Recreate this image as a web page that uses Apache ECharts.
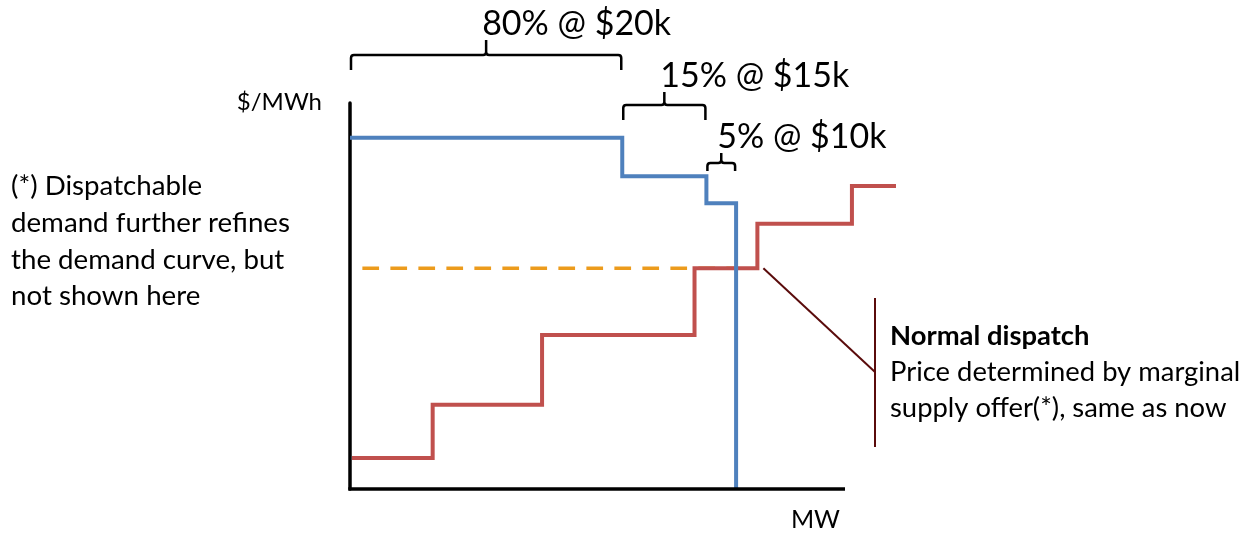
<!DOCTYPE html>
<html>
<head>
<meta charset="utf-8">
<script src="https://cdn.jsdelivr.net/npm/echarts@6/dist/echarts.min.js"></script>
<style>
  html, body { margin: 0; padding: 0; background: #ffffff; }
  #chart { width: 1257px; height: 535px; }
</style>
</head>
<body>
<div id="chart"></div>
<script>
// Demand curve: three price-responsive blocks (cumulative MW, price index)
const demandBlockEnds = [55, 72, 78];
const demandPrices = [91, 81, 74];
const demandLabels = ['80% @ $20k', '15% @ $15k', '5% @ $10k'];

// Supply offer stack (cumulative MW, offer price index)
const supplyStart = 0.4;
const supplyBlockEnds = [16.7, 38.8, 69.6, 82.3, 101.4, 110.3];
const supplyPrices = [8, 21.8, 39.9, 57.2, 68.7, 78.5];

// The supply block that sets the clearing price
const marginalIndex = 3;
const clearingFrom = 2.5;

// The drawn MW axis stops here; the supply stack runs a little past it
const axisEndMW = 100;
const plotMaxMW = 112;

const FONT = 'Lato, "Noto Sans", sans-serif';
const PX_PER_MW = 4.95;

function demandPoints() {
  const pts = [[0, demandPrices[0]]];
  for (let i = 0; i < demandBlockEnds.length; i++) {
    pts.push([demandBlockEnds[i], demandPrices[i]]);
    const next = i + 1 < demandPrices.length ? demandPrices[i + 1] : 0;
    pts.push([demandBlockEnds[i], next]);
  }
  return pts;
}

function supplyPoints() {
  const pts = [[supplyStart, supplyPrices[0]]];
  for (let i = 0; i < supplyBlockEnds.length; i++) {
    pts.push([supplyBlockEnds[i], supplyPrices[i]]);
    if (i + 1 < supplyPrices.length) pts.push([supplyBlockEnds[i], supplyPrices[i + 1]]);
  }
  return pts;
}

const clearingPrice = supplyPrices[marginalIndex];
const demandMax = demandBlockEnds[demandBlockEnds.length - 1];

// brace spans follow the demand blocks
const braceData = demandBlockEnds.map((end, i) => [i === 0 ? 0 : demandBlockEnds[i - 1], end, i]);
// brace drawing: horizontal bar height, end drop and tip height in pixels
const braceLayout = [
  { y: 55, drop: 15, tip: 15 },
  { y: 105, drop: 15, tip: 13 },
  { y: 163, drop: 8, tip: 10 }
];

function renderBrace(params, api) {
  const i = params.dataIndex;
  const L = braceLayout[i];
  const x0 = api.coord([api.value(0), 0])[0] + 1;
  const x1 = api.coord([api.value(1), 0])[0] - 1;
  const xm = (x0 + x1) / 2;
  const y = L.y, r = 3;
  const d =
    'M' + x0 + ' ' + (y + L.drop) +
    ' L' + x0 + ' ' + (y + r) +
    ' Q' + x0 + ' ' + y + ' ' + (x0 + r) + ' ' + y +
    ' L' + (xm - r) + ' ' + y +
    ' Q' + xm + ' ' + y + ' ' + xm + ' ' + (y - r) +
    ' L' + xm + ' ' + (y - L.tip) +
    ' M' + xm + ' ' + (y - r) +
    ' Q' + xm + ' ' + y + ' ' + (xm + r) + ' ' + y +
    ' L' + (x1 - r) + ' ' + y +
    ' Q' + x1 + ' ' + y + ' ' + x1 + ' ' + (y + r) +
    ' L' + x1 + ' ' + (y + L.drop);
  return {
    type: 'group',
    children: [
      {
        type: 'path',
        shape: { pathData: d },
        style: { fill: null, stroke: '#000000', lineWidth: 2.5, lineJoin: 'round' }
      },
      {
        type: 'text',
        style: {
          text: demandLabels[i],
          x: xm - 4,
          y: y - L.tip - 16,
          fill: '#000000',
          font: '34px ' + FONT,
          textAlign: 'left',
          textVerticalAlign: 'middle',
          verticalAlign: 'middle'
        }
      }
    ]
  };
}

const chart = echarts.init(document.getElementById('chart'), null, { renderer: 'canvas' });

const option = {
  backgroundColor: '#ffffff',
  animation: false,
  grid: { left: 350, top: 103, width: plotMaxMW * PX_PER_MW, height: 386, containLabel: false },
  xAxis: {
    type: 'value', min: 0, max: plotMaxMW,
    axisLine: { show: false },
    axisTick: { show: false }, axisLabel: { show: false }, splitLine: { show: false }
  },
  yAxis: {
    type: 'value', min: 0, max: 100,
    axisLine: { show: true, onZero: false, lineStyle: { color: '#000000', width: 3.5 } },
    axisTick: { show: false }, axisLabel: { show: false }, splitLine: { show: false }
  },
  series: [
    {
      name: 'Clearing price', type: 'line', symbol: 'none', silent: true,
      data: [[clearingFrom, clearingPrice], [demandMax, clearingPrice]],
      lineStyle: { color: '#ec9b1c', width: 3.5, type: [16.7, 11.3] }, z: 2
    },
    {
      name: 'Supply', type: 'line', symbol: 'none', silent: true,
      data: supplyPoints(),
      lineStyle: { color: '#c0504d', width: 4, join: 'miter' }, z: 3
    },
    {
      name: 'Demand', type: 'line', symbol: 'none', silent: true,
      data: demandPoints(),
      lineStyle: { color: '#4f81bd', width: 4, join: 'miter' }, z: 4
    },
    {
      name: 'Blocks', type: 'custom', clip: false, silent: true,
      renderItem: renderBrace,
      data: braceData, z: 5
    }
  ]
};

chart.setOption(option);

// MW axis line, drawn only up to the end of the axis
const axisStart = chart.convertToPixel({ gridIndex: 0 }, [0, 0]);
const axisEnd = chart.convertToPixel({ gridIndex: 0 }, [axisEndMW, 0]);

// callout from the marginal offer to the note
const anchor = chart.convertToPixel({ gridIndex: 0 }, [supplyBlockEnds[marginalIndex], clearingPrice]);
const calloutColor = '#5a0b0b';

chart.setOption({
  graphic: [
    {
      type: 'line', silent: true, z: 10,
      shape: { x1: axisStart[0] - 1.75, y1: axisStart[1], x2: axisEnd[0], y2: axisEnd[1] },
      style: { stroke: '#000000', lineWidth: 3.5 }
    },
    {
      type: 'polyline', silent: true,
      shape: { points: [[anchor[0] + 6, anchor[1]], [875, 372]] },
      style: { stroke: calloutColor, lineWidth: 2 }
    },
    {
      type: 'line', silent: true,
      shape: { x1: 875, y1: 298, x2: 875, y2: 447 },
      style: { stroke: calloutColor, lineWidth: 2 }
    },
    {
      type: 'text', silent: true, x: 890, y: 318,
      style: {
        text: '{b|Normal dispatch}\n{n|Price determined by marginal}\n{n|supply offer(*), same as now}',
        rich: {
          b: { font: 'bold 27.4px ' + FONT, fill: '#000000', lineHeight: 36 },
          n: { font: '27.4px ' + FONT, fill: '#000000', lineHeight: 36 }
        }
      }
    },
    {
      type: 'text', silent: true, x: 11, y: 168,
      style: {
        text: '(*) Dispatchable\ndemand further refines\nthe demand curve, but\nnot shown here',
        font: '27.7px ' + FONT, fill: '#000000', lineHeight: 36.7
      }
    },
    {
      type: 'text', silent: true, x: 322, y: 102,
      style: {
        text: '$/MWh', font: '24px ' + FONT, fill: '#000000',
        textAlign: 'right', textVerticalAlign: 'middle', verticalAlign: 'middle'
      }
    },
    {
      type: 'text', silent: true, x: 840, y: 520,
      style: {
        text: 'MW', font: '25px ' + FONT, fill: '#000000',
        textAlign: 'right', textVerticalAlign: 'middle', verticalAlign: 'middle'
      }
    }
  ]
});
</script>
</body>
</html>
